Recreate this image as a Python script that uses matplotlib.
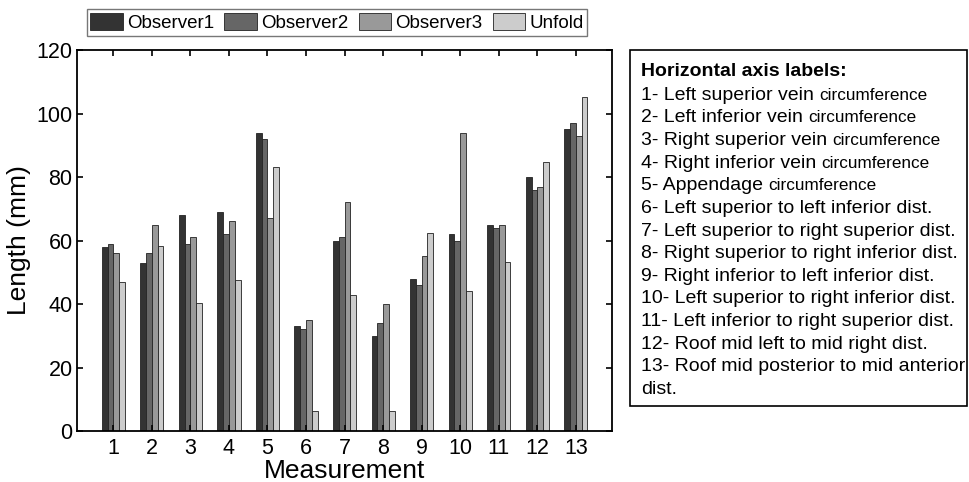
import matplotlib.pyplot as plt
from matplotlib.patches import Rectangle
import numpy as np

plt.rcParams['font.family'] = ['Liberation Sans', 'DejaVu Sans']

measurements = list(range(1, 14))
observer1 = [58, 53, 68, 69, 94, 33, 60, 30, 48, 62, 65, 80, 95]
observer2 = [59, 56, 59, 62, 92, 32, 61, 34, 46, 60, 64, 76, 97]
observer3 = [56, 65, 61, 66, 67, 35, 72, 40, 55, 94, 65, 77, 93]
unfold = [47, 58.2, 40.2, 47.6, 83.2, 6.3, 42.8, 6.3, 62.4, 44.1, 53.3, 84.6, 105.3]

series_names = ['Observer1', 'Observer2', 'Observer3', 'Unfold']
series_colors = ['#333333', '#666666', '#999999', '#cccccc']

# (main text, smaller trailing word)
label_lines = [
    ('1- Left superior vein ', 'circumference'),
    ('2- Left inferior vein ', 'circumference'),
    ('3- Right superior vein ', 'circumference'),
    ('4- Right inferior vein ', 'circumference'),
    ('5- Appendage ', 'circumference'),
    ('6- Left superior to left inferior dist.', ''),
    ('7- Left superior to right superior dist.', ''),
    ('8- Right superior to right inferior dist.', ''),
    ('9- Right inferior to left inferior dist.', ''),
    ('10- Left superior to right inferior dist.', ''),
    ('11- Left inferior to right superior dist.', ''),
    ('12- Roof mid left to mid right dist.', ''),
    ('13- Roof mid posterior to mid anterior', ''),
    ('dist.', ''),
]

W, H = 969, 482
fig = plt.figure(figsize=(W / 100, H / 100), dpi=100)
ax = fig.add_axes([76.7 / W, 1 - 431 / H, (611.7 - 76.7) / W, (431 - 50) / H])

x = np.array(measurements)
bw = 0.15
all_series = [observer1, observer2, observer3, unfold]
for i, (vals, name, col) in enumerate(zip(all_series, series_names, series_colors)):
    ax.bar(x + (i - 1.5) * bw, vals, bw, color=col, edgecolor='#222222',
           linewidth=0.6, label=name)

ax.set_xlim(0.05, 13.93)
ax.set_ylim(0, 120)
ax.set_xticks(measurements)
ax.set_yticks(range(0, 121, 20))
ax.tick_params(direction='in', length=4, width=1.2, labelsize=15.5,
               top=True, right=True)
ax.tick_params(axis='x', pad=5)
ax.tick_params(axis='y', pad=3)
for s in ax.spines.values():
    s.set_linewidth(1.3)
ax.set_xlabel('Measurement', fontsize=19, labelpad=0)
ax.set_ylabel('Length (mm)', fontsize=19, labelpad=4)

leg = ax.legend(loc='upper left', bbox_to_anchor=(86.7 / W, 1 - 9.3 / H),
                bbox_transform=fig.transFigure, ncol=4, fontsize=13.5,
                frameon=True, fancybox=False, borderaxespad=0, borderpad=0.2,
                handlelength=1.75, handleheight=1.0, handletextpad=0.2,
                columnspacing=0.55)
leg.get_frame().set_edgecolor('#555555')
leg.get_frame().set_linewidth(1.0)

# side box with label explanations
fig.patches.append(Rectangle((630 / W, 1 - 406 / H), (967 - 630) / W, (406 - 50) / H,
                             transform=fig.transFigure, fill=False,
                             edgecolor='black', linewidth=1.2))
fig.text(641 / W, 1 - 72 / H, 'Horizontal axis labels:', fontsize=14,
         fontweight='bold', va='center', ha='left')
for k, (main, small) in enumerate(label_lines):
    y = 1 - (72 + 5.3 + 22.6 * (k + 1)) / H
    t = fig.text(641 / W, y, main, fontsize=14, va='baseline', ha='left')
    if small:
        ax.annotate(small, xy=(1, y), xycoords=(t, 'figure fraction'),
                    va='baseline', ha='left', fontsize=12.3,
                    annotation_clip=False)

fig.savefig('out.png', dpi=100)
